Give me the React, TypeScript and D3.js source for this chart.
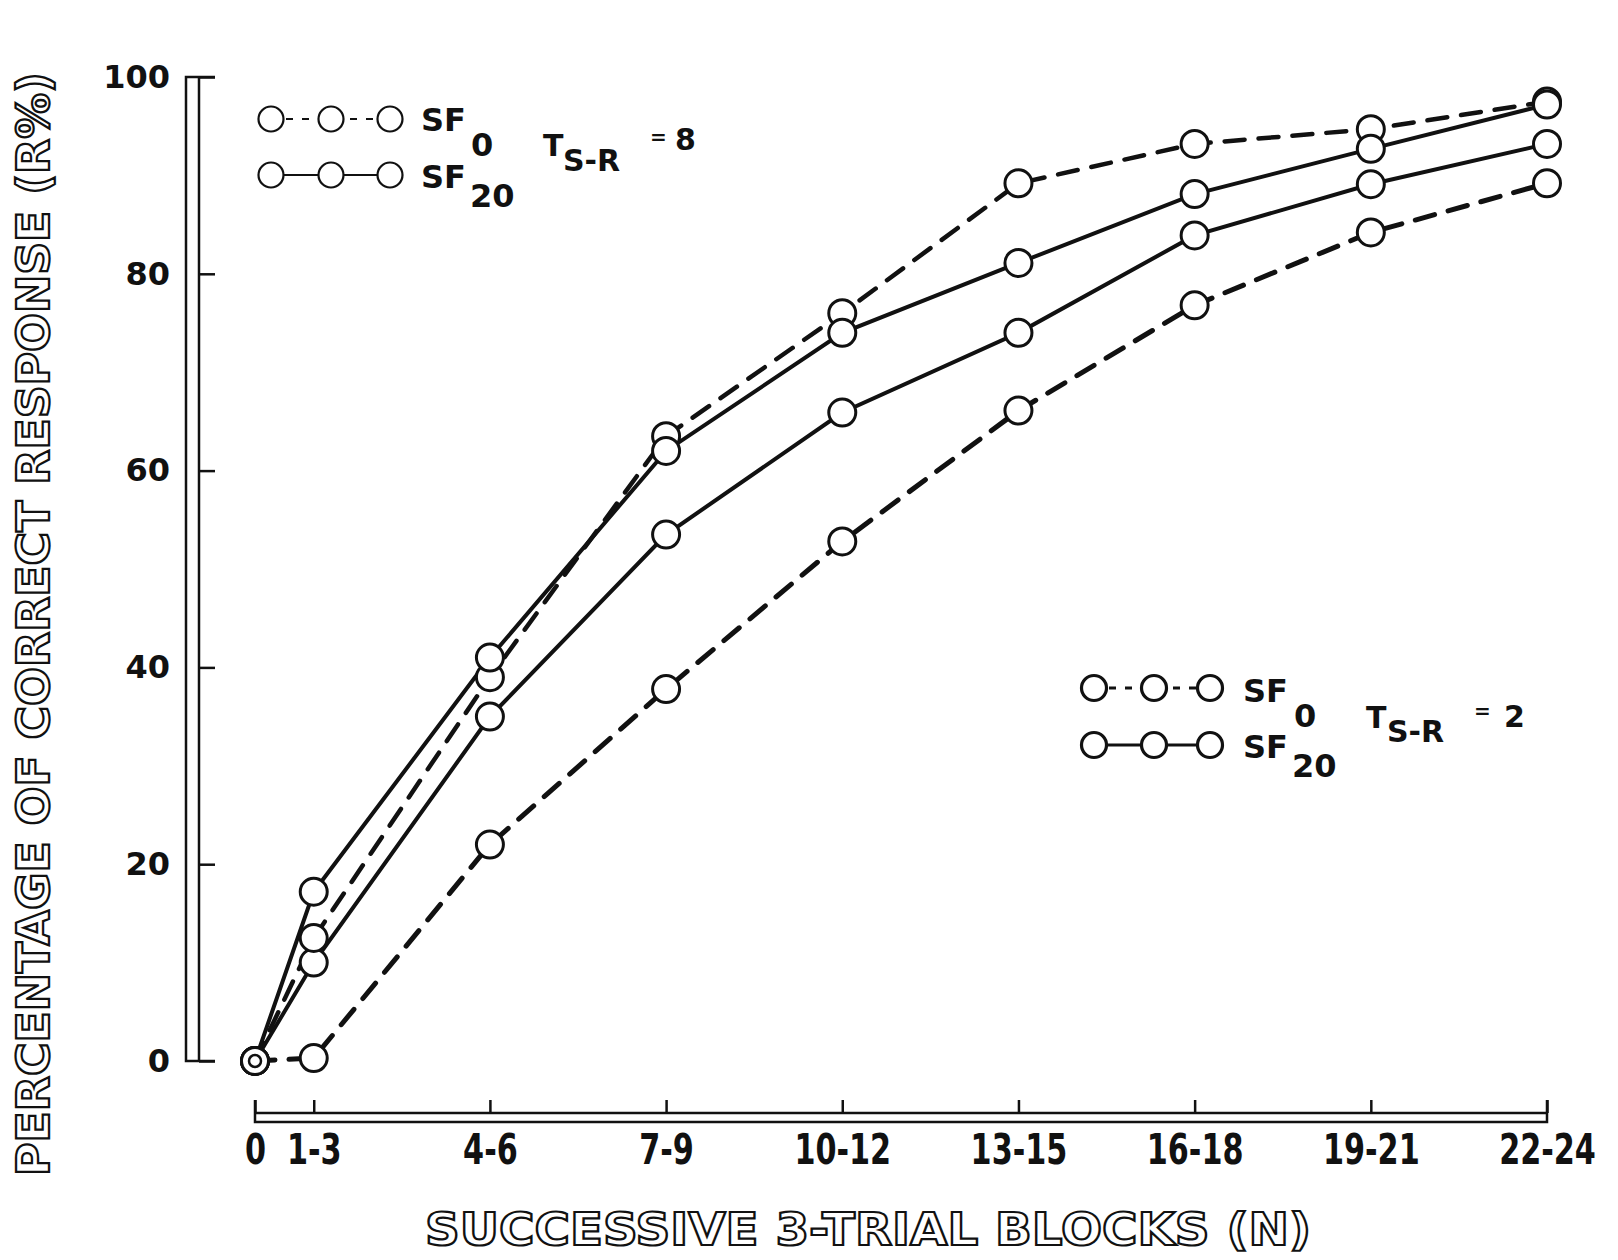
import React, { useEffect, useRef } from 'react';
import * as d3 from 'd3';

// block start trial (x position) and the printed block labels
const blockStart = [0, 1, 4, 7, 10, 13, 16, 19, 22];
const blockLabels = ['0', '1-3', '4-6', '7-9', '10-12', '13-15', '16-18', '19-21', '22-24'];
const yTicks = [0, 20, 40, 60, 80, 100];

// R%
const t8sf0 = [0, 12.5, 39, 63.5, 76, 89.2, 93.2, 94.7, 97.5];
const t8sf20 = [0, 17.2, 41, 62, 74, 81.1, 88.1, 92.7, 97.2];
const t2sf0 = [0, 0.3, 22, 37.8, 52.8, 66.1, 76.8, 84.2, 89.2];
const t2sf20 = [0, 10, 35, 53.5, 65.9, 74, 83.9, 89.1, 93.2];

const W = 1618, H = 1260;
const INK = '#111';
const FONT = '"DejaVu Sans", sans-serif';

const plotChart = (el: SVGSVGElement) => {
	const svg = d3.select(el);
	svg.selectAll('*').remove();

	svg.append('rect').attr('width', W).attr('height', H).attr('fill', '#fff');

	// 1. scales
	const x = d3.scaleLinear().domain([0, 22]).range([255, 1547]);
	const y = d3.scaleLinear().domain([0, 100]).range([1061, 77]);

	// 2. y axis (bracket style, double line)
	const yAx = svg.append('g').attr('transform', 'translate(199,0)')
		.call(d3.axisLeft(y).tickValues(yTicks).tickSize(-16).tickPadding(29).tickFormat(d3.format('d')));
	yAx.select('.domain').remove();
	yAx.selectAll('line').attr('stroke', INK).attr('stroke-width', 2.5);
	yAx.selectAll('text')
		.attr('fill', INK)
		.style('font-family', FONT)
		.style('font-weight', 'bold')
		.style('font-size', '32px');
	svg.append('path')
		.attr('d', `M215,${y(100)}L186,${y(100)}L186,${y(0)}L215,${y(0)}`)
		.attr('fill', 'none').attr('stroke', INK).attr('stroke-width', 2.5);
	svg.append('line')
		.attr('x1', 199).attr('x2', 199).attr('y1', y(100)).attr('y2', y(0))
		.attr('stroke', INK).attr('stroke-width', 2.5);

	// 3. x axis (bracket)
	const xAx = svg.append('g').attr('transform', 'translate(0,1113)')
		.call(d3.axisBottom(x).tickValues(blockStart).tickSize(-13).tickFormat((d, i) => blockLabels[i]));
	xAx.select('.domain').remove();
	xAx.selectAll('line').attr('stroke', INK).attr('stroke-width', 2.5);
	xAx.selectAll('text')
		.attr('y', 0).attr('dy', null)
		.attr('transform', 'translate(0,51) scale(0.84,1.18)')
		.attr('fill', INK)
		.style('font-family', FONT)
		.style('font-weight', 'bold')
		.style('font-size', '36px');
	svg.append('path')
		.attr('d', `M${x(0)},1100L${x(0)},1122L${x(22)},1122L${x(22)},1100`)
		.attr('fill', 'none').attr('stroke', INK).attr('stroke-width', 2.5);
	svg.append('line')
		.attr('x1', x(0)).attr('x2', x(22)).attr('y1', 1113).attr('y2', 1113)
		.attr('stroke', INK).attr('stroke-width', 2.5);

	// 4. axis titles (outlined lettering)
	svg.append('text')
		.text('PERCENTAGE OF CORRECT RESPONSE (R%)')
		.attr('transform', 'translate(33,624) rotate(-90)')
		.attr('text-anchor', 'middle')
		.attr('dominant-baseline', 'central')
		.attr('textLength', 1104)
		.attr('lengthAdjust', 'spacingAndGlyphs')
		.attr('fill', '#fff').attr('stroke', INK).attr('stroke-width', 2.2)
		.style('font-family', FONT).style('font-weight', 'bold').style('font-size', '44px');
	svg.append('text')
		.text('SUCCESSIVE 3-TRIAL BLOCKS (N)')
		.attr('x', 868).attr('y', 1245)
		.attr('text-anchor', 'middle')
		.attr('textLength', 886)
		.attr('lengthAdjust', 'spacingAndGlyphs')
		.attr('fill', '#fff').attr('stroke', INK).attr('stroke-width', 2.2)
		.style('font-family', FONT).style('font-weight', 'bold').style('font-size', '45px');

	// 5. lines
	const line = d3.line<number>().x((d, i) => x(blockStart[i])).y(d => y(d));
	const series = [
		{ v: t2sf0, dash: '20,14', w: 5 },
		{ v: t2sf20, dash: null, w: 4 },
		{ v: t8sf0, dash: '20,14', w: 4.5 },
		{ v: t8sf20, dash: null, w: 4 },
	];
	series.forEach(s => {
		svg.append('path')
			.attr('d', line(s.v))
			.attr('fill', 'none')
			.attr('stroke', INK)
			.attr('stroke-width', s.w)
			.attr('stroke-dasharray', s.dash)
			.attr('stroke-linecap', 'round');
	});
	series.forEach(s => {
		svg.selectAll(null)
			.data(s.v)
			.enter()
			.append('circle')
			.attr('cx', (d, i) => x(blockStart[i]))
			.attr('cy', d => y(d))
			.attr('r', 13.5)
			.attr('fill', '#fff')
			.attr('stroke', INK)
			.attr('stroke-width', 3);
	});
	// overlapping start points drawn as a double ring
	svg.append('circle')
		.attr('cx', x(blockStart[0])).attr('cy', y(t8sf20[0])).attr('r', 6)
		.attr('fill', 'none').attr('stroke', INK).attr('stroke-width', 2.5);

	// 6. legends
	const legend = (cxs: number[], rows: number[], thick: number, texts: any[]) => {
		rows.forEach((ry, k) => {
			svg.append('line')
				.attr('x1', cxs[0]).attr('x2', cxs[2]).attr('y1', ry).attr('y2', ry)
				.attr('stroke', INK).attr('stroke-width', thick)
				.attr('stroke-dasharray', k === 0 ? '7,9' : null)
				.attr('stroke-dashoffset', k === 0 ? -15 : 0);
			cxs.forEach(cx => {
				svg.append('circle').attr('cx', cx).attr('cy', ry).attr('r', 12.5)
					.attr('fill', '#fff').attr('stroke', INK).attr('stroke-width', thick);
			});
		});
		texts.forEach(t => {
			svg.append('text').text(t.s).attr('x', t.x).attr('y', t.y)
				.attr('fill', INK)
				.style('font-family', FONT).style('font-weight', 'bold').style('font-size', t.f + 'px');
		});
	};
	legend([271, 331, 390], [119, 175], 2.2, [
		{ s: 'SF', x: 421, y: 131, f: 32 },
		{ s: '0', x: 471, y: 156, f: 32 },
		{ s: 'SF', x: 421, y: 188, f: 32 },
		{ s: '20', x: 470, y: 207, f: 32 },
		{ s: 'T', x: 543, y: 156, f: 30 },
		{ s: 'S-R', x: 563, y: 171, f: 30 },
		{ s: '=', x: 650, y: 144, f: 20 },
		{ s: '8', x: 675, y: 150, f: 30 },
	]);
	legend([1094, 1154, 1210], [688, 745], 3.2, [
		{ s: 'SF', x: 1243, y: 702, f: 32 },
		{ s: '0', x: 1294, y: 727, f: 32 },
		{ s: 'SF', x: 1243, y: 758, f: 32 },
		{ s: '20', x: 1292, y: 777, f: 32 },
		{ s: 'T', x: 1366, y: 728, f: 30 },
		{ s: 'S-R', x: 1387, y: 742, f: 30 },
		{ s: '=', x: 1474, y: 718, f: 20 },
		{ s: '2', x: 1504, y: 727, f: 30 },
	]);
};

const App = () => {
	const ref = useRef<SVGSVGElement>(null);
	useEffect(() => { if (ref.current) plotChart(ref.current); }, []);
	return (
		<svg ref={ref} width={W} height={H}
			style={{ position: 'absolute', left: 0, top: 0, display: 'block' }} />
	);
};

export default App;
